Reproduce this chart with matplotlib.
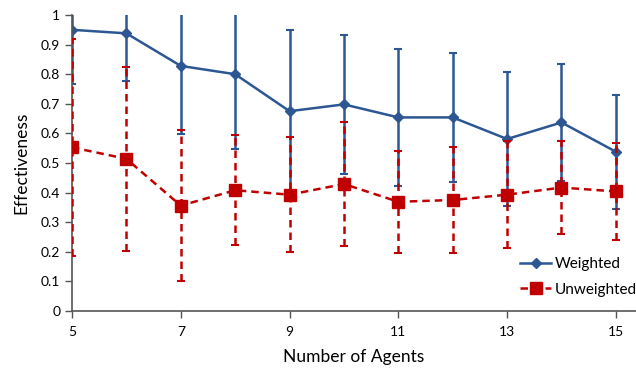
import matplotlib.pyplot as plt
from matplotlib.lines import Line2D

agents = [5, 6, 7, 8, 9, 10, 11, 12, 13, 14, 15]

weighted = [0.95, 0.938, 0.828, 0.80, 0.675, 0.698, 0.654, 0.654, 0.581, 0.637, 0.538]
weighted_err = [0.184, 0.162, 0.231, 0.252, 0.276, 0.235, 0.232, 0.217, 0.225, 0.197, 0.193]

unweighted = [0.553, 0.514, 0.356, 0.408, 0.393, 0.429, 0.369, 0.375, 0.393, 0.417, 0.404]
unweighted_err = [0.366, 0.31, 0.256, 0.185, 0.195, 0.21, 0.173, 0.18, 0.181, 0.158, 0.163]

x_ticks = [5, 7, 9, 11, 13, 15]
y_ticks = [0, 0.1, 0.2, 0.3, 0.4, 0.5, 0.6, 0.7, 0.8, 0.9, 1]
y_labels = ["0", "0.1", "0.2", "0.3", "0.4", "0.5", "0.6", "0.7", "0.8", "0.9", "1"]

blue = "#2C5793"
red = "#C00000"

plt.rcParams['font.family'] = ['Lato', 'DejaVu Sans']

fig = plt.figure(figsize=(6.36, 3.73), dpi=100)
ax = fig.add_axes([72 / 636, 62 / 373, 564 / 636, 296 / 373])

# Weighted series
ax.errorbar(agents, weighted, yerr=weighted_err, color=blue, lw=1.8,
            marker="D", markersize=5, capsize=3, capthick=1.5,
            elinewidth=1.8, zorder=2)

# Unweighted series, dashed bars
eb = ax.errorbar(agents, unweighted, yerr=unweighted_err, color=red, lw=1.8,
                 linestyle="--", dashes=(3, 2), marker="s", markersize=8,
                 capsize=3, capthick=1.5, elinewidth=1.8, zorder=3)
eb[-1][0].set_linestyle((0, (3, 2)))

ax.set_xlim(5, 15.37)
ax.set_ylim(0, 1)
ax.set_xticks(x_ticks)
ax.set_xticklabels([str(t) for t in x_ticks], fontsize=10)
ax.set_yticks(y_ticks)
ax.set_yticklabels(y_labels, fontsize=10)

for s in ["top", "right"]:
    ax.spines[s].set_visible(False)
for s in ["left", "bottom"]:
    ax.spines[s].set_color("#555555")
    ax.spines[s].set_linewidth(1.2)
ax.tick_params(axis="both", length=5, color="#555555", width=1)
ax.tick_params(axis="x", pad=6)

ax.set_xlabel("Number of Agents", fontsize=12.5, labelpad=8)
ax.set_ylabel("Effectiveness", fontsize=12.5, labelpad=8)

# legend handles without the error bars
handles = [
    Line2D([], [], color=blue, lw=1.8, marker="D", markersize=5),
    Line2D([], [], color=red, lw=1.8, linestyle=(0, (3, 2)), marker="s", markersize=8),
]
ax.legend(handles, ["Weighted", "Unweighted"], loc="upper left",
          bbox_to_anchor=(0.795, 0.182), frameon=False, fontsize=11,
          handlelength=2.0, handletextpad=0.25, labelspacing=0.75,
          borderaxespad=0, borderpad=0)

fig.savefig("out.png", dpi=100)
plt.close()
